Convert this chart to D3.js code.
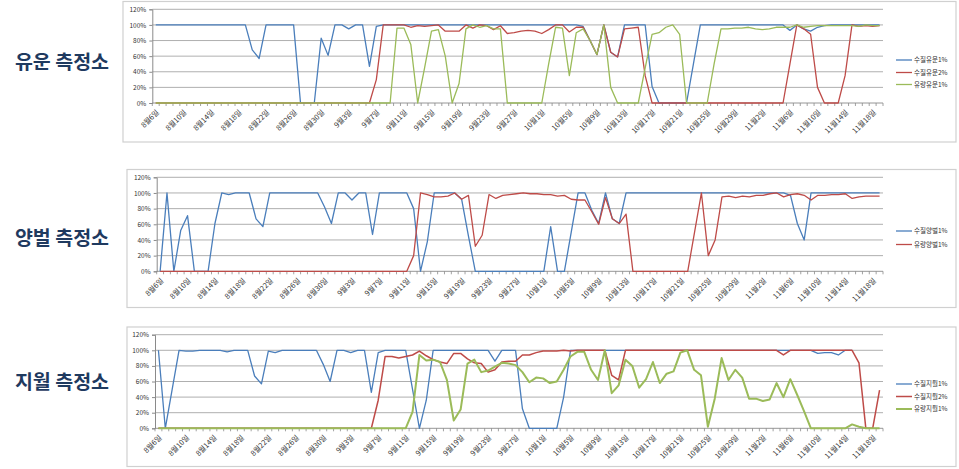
<!DOCTYPE html>
<html><head><meta charset="utf-8">
<script src="https://cdn.jsdelivr.net/npm/d3@7"></script>
<style>body{margin:0;background:#fff;} svg{display:block;}</style>
</head><body><svg id="c" width="959" height="469"></svg>
<script>
const categories = [
"8월6일","8월7일","8월8일","8월9일","8월10일","8월11일","8월12일","8월13일","8월14일","8월15일",
"8월16일","8월17일","8월18일","8월19일","8월20일","8월21일","8월22일","8월23일","8월24일","8월25일",
"8월26일","8월27일","8월28일","8월29일","8월30일","8월31일",
"9월1일","9월2일","9월3일","9월4일","9월5일","9월6일","9월7일","9월8일","9월9일","9월10일",
"9월11일","9월12일","9월13일","9월14일","9월15일","9월16일","9월17일","9월18일","9월19일","9월20일",
"9월21일","9월22일","9월23일","9월24일","9월25일","9월26일","9월27일","9월28일","9월29일","9월30일",
"10월1일","10월2일","10월3일","10월4일","10월5일","10월6일","10월7일","10월8일","10월9일","10월10일",
"10월11일","10월12일","10월13일","10월14일","10월15일","10월16일","10월17일","10월18일","10월19일","10월20일",
"10월21일","10월22일","10월23일","10월24일","10월25일","10월26일","10월27일","10월28일","10월29일","10월30일","10월31일",
"11월1일","11월2일","11월3일","11월4일","11월5일","11월6일","11월7일","11월8일","11월9일","11월10일",
"11월11일","11월12일","11월13일","11월14일","11월15일","11월16일","11월17일","11월18일","11월19일"];

const yTicks = [0,20,40,60,80,100,120];

// 유운 측정소
const yuunQuality1 = [100,100,100,100,100,100,100,100,100,100, 100,100,100,100,68,57,100,100,100,100,
 100,0,0,0,83,61,100,100,95,100, 100,47,98,100,100,100,100,100,100,100,
 100,100,100,100,100,100,100,100,100,100, 100,100,100,100,100,100,100,100,100,100,
 100,100,98,80,62,100,65,59,100,100, 100,100,21,0,0,0,0,0,50,100,
 100,100,100,100,100,100,100,100,100,100, 100,100,93,100,95,92,97,99,100,100,
 100,100,100,100,100,100];
const yuunQuality2 = [0,0,0,0,0,0,0,0,0,0, 0,0,0,0,0,0,0,0,0,0, 0,0,0,0,0,0,0,0,0,0,
 0,0,30,100,100,100,100,97,99,98, 99,100,92,92,92,100,96,100,99,94,
 99,89,90,92,93,92,89,94,100,100, 91,97,97,80,62,100,65,59,95,96,
 97,35,0,0,0,0,0,0,0,0, 0,0,0,0,0,0,0,0,0,0,
 0,0,50,100,95,88,20,0,0,0, 35,100,98,99,98,99];
const yuunFlow1 = [0,0,0,0,0,0,0,0,0,0, 0,0,0,0,0,0,0,0,0,0, 0,0,0,0,0,0,0,0,0,0,
 0,0,0,0,0,96,96,75,0,45, 92,94,60,0,25,95,100,97,99,95,
 95,0,0,0,0,0,0,50,97,96, 35,90,95,80,62,100,20,0,0,0,
 0,45,88,90,97,100,88,0,0,0, 0,50,95,95,96,96,97,95,94,95,
 97,97,97,100,97,98,99,99,99,99, 99,99,98,100,99,99];

// 양벌 측정소
const yangbeolQuality1 = [0,100,0,52,71,0,0,0,61,100, 98,100,100,100,67,57,100,100,100,100,
 100,100,100,100,82,61,100,100,91,100, 100,47,100,100,100,100,100,80,0,38,
 100,100,100,100,92,45,0,0,0,0, 0,0,0,0,0,0,0,57,0,0,
 50,100,100,78,61,100,67,61,100,100, 100,100,100,100,100,100,100,100,100,100,
 100,100,100,100,100,100,100,100,100,100, 100,100,97,61,40,100,100,100,100,100,
 100,100,100,100,100,100];
const yangbeolFlow1 = [0,0,0,0,0,0,0,0,0,0, 0,0,0,0,0,0,0,0,0,0, 0,0,0,0,0,0,0,0,0,0,
 0,0,0,0,0,0,0,20,100,98, 95,95,96,100,92,97,32,46,98,93,
 97,98,99,100,99,99,98,98,96,97, 92,91,91,76,60,94,67,61,73,0,
 0,0,0,0,0,0,0,0,50,100, 20,40,95,96,94,96,95,97,97,99,
 100,95,98,99,97,91,97,97,98,98, 99,93,95,96,96,96];

// 지월 측정소
const jiwolQuality1 = [100,0,50,100,99,99,100,100,100,100, 98,100,100,100,67,57,99,97,100,100,
 100,100,100,100,82,60,100,100,97,100, 100,46,97,100,100,100,100,50,0,36,
 100,100,100,100,100,100,100,100,100,86, 100,100,100,25,0,0,0,0,0,40,
 100,100,100,100,100,100,100,100,100,100, 100,100,100,100,100,100,100,100,100,100,
 100,100,100,100,100,100,100,100,100,100, 100,100,100,100,100,100,96,97,97,94,
 100,100,null,null,null,null];
const jiwolQuality2 = [0,0,0,0,0,0,0,0,0,0, 0,0,0,0,0,0,0,0,0,0, 0,0,0,0,0,0,0,0,0,0,
 0,0,36,92,92,90,92,94,99,93, 88,85,83,96,96,89,84,83,72,75,
 85,86,86,94,94,97,99,99,99,100, 99,100,100,100,100,100,68,62,100,100,
 100,100,100,100,100,100,100,100,100,100, 100,100,100,100,100,100,100,100,100,100,
 100,94,100,100,100,100,100,100,100,100, 100,100,84,0,0,49];
const jiwolFlow1 = [0,0,0,0,0,0,0,0,0,0, 0,0,0,0,0,0,0,0,0,0, 0,0,0,0,0,0,0,0,0,0,
 0,0,0,0,0,0,0,21,94,87, 88,85,62,10,24,83,88,72,74,79,
 84,83,81,72,59,65,64,58,60,75, 92,98,98,75,62,100,45,55,88,80,
 52,63,85,58,70,73,97,100,75,68, 2,38,90,62,75,65,38,38,35,37,
 58,40,63,43,22,0,0,0,0,0, 0,5,2,0,0,0];

const BLUE = "#4A7EBB", RED = "#BE4B48", GREEN = "#9BBB59";

const panels = [
  { title: "유운 측정소", titleY: 62,
    box: [123, 1.5, 833, 140.5], plot: [152.3, 883, 9.3, 103],
    legendY: [60, 72.5, 84.5],
    series: [
      { name: "수질유운1%", values: yuunQuality1, color: BLUE, width: 1.3 },
      { name: "수질유운2%", values: yuunQuality2, color: RED, width: 1.3 },
      { name: "유량유운1%", values: yuunFlow1, color: GREEN, width: 1.3 } ] },
  { title: "양벌 측정소", titleY: 238,
    box: [127, 169.5, 829, 138], plot: [156.7, 883, 177.3, 271.3],
    legendY: [231, 244.5],
    series: [
      { name: "수질양벌1%", values: yangbeolQuality1, color: BLUE, width: 1.3 },
      { name: "유량양벌1%", values: yangbeolFlow1, color: RED, width: 1.3 } ] },
  { title: "지월 측정소", titleY: 382,
    box: [127, 327, 829, 139.5], plot: [155, 883, 334.7, 428.3],
    legendY: [384, 396.5, 409],
    series: [
      { name: "수질지월1%", values: jiwolQuality1, color: BLUE, width: 1.3 },
      { name: "수질지월2%", values: jiwolQuality2, color: RED, width: 1.5 },
      { name: "유량지월1%", values: jiwolFlow1, color: GREEN, width: 2 } ] }
];

const svg = d3.select("#c");
const FONT = "'Noto Sans CJK KR','Noto Sans',sans-serif";

panels.forEach(p => {
  const g = svg.append("g");
  const [bx, by, bw, bh] = p.box;
  g.append("rect").attr("x", bx).attr("y", by).attr("width", bw).attr("height", bh)
    .attr("fill", "#fff").attr("stroke", "#d0d0d0").attr("stroke-width", 1.2);

  const [left, right, top, bottom] = p.plot;
  const x = d3.scaleBand().domain(categories).range([left, right]).padding(0);
  const y = d3.scaleLinear().domain([0, 120]).range([bottom, top]);
  const cx = c => x(c) + x.bandwidth() / 2;

  g.selectAll(".grid").data(yTicks.filter(t => t > 0)).enter().append("line")
    .attr("x1", left).attr("x2", right).attr("y1", d => y(d)).attr("y2", d => y(d))
    .attr("stroke", "#9a9a9a").attr("stroke-width", 0.8);

  const ya = d3.axisLeft(y).tickValues(yTicks).tickFormat(d => d + "%").tickSize(3).tickPadding(3);
  const yg = g.append("g").attr("transform", `translate(${left},0)`).call(ya);
  yg.select(".domain").attr("stroke", "#8a8a8a");
  yg.selectAll(".tick line").attr("stroke", "#8a8a8a");
  yg.selectAll("text").attr("font-family", FONT).attr("font-size", 6.5).attr("fill", "#333");

  g.append("line").attr("x1", left).attr("x2", right).attr("y1", bottom).attr("y2", bottom)
    .attr("stroke", "#8a8a8a").attr("stroke-width", 0.9);
  const bounds = d3.range(categories.length + 1).map(i => left + i * x.bandwidth());
  g.selectAll(".xt").data(bounds).enter().append("line")
    .attr("x1", d => d).attr("x2", d => d).attr("y1", bottom).attr("y2", bottom + 3)
    .attr("stroke", "#8a8a8a").attr("stroke-width", 0.8);
  g.selectAll(".xl").data(categories.filter((c, i) => i % 4 === 0)).enter().append("text")
    .attr("transform", d => `translate(${cx(d) + 2},${bottom + 8}) rotate(-45)`)
    .attr("text-anchor", "end").attr("dy", "0.35em")
    .attr("font-family", FONT).attr("font-size", 7.4).attr("fill", "#333")
    .text(d => d);

  const line = d3.line().defined(d => d.v != null).x(d => cx(d.c)).y(d => y(d.v));
  p.series.forEach(s => {
    g.append("path").datum(s.values.map((v, i) => ({ c: categories[i], v })))
      .attr("d", line).attr("fill", "none").attr("stroke", s.color)
      .attr("stroke-width", s.width).attr("stroke-linejoin", "round");
  });

  p.series.forEach((s, k) => {
    const ly = p.legendY[k];
    g.append("line").attr("x1", 896).attr("x2", 912).attr("y1", ly).attr("y2", ly)
      .attr("stroke", s.color).attr("stroke-width", s.width);
    g.append("text").attr("x", 914).attr("y", ly).attr("dy", "0.35em")
      .attr("font-family", FONT).attr("font-size", 6.5).attr("fill", "#333").text(s.name);
  });

  svg.append("text").attr("x", 62).attr("y", p.titleY).attr("dy", "0.36em")
    .attr("text-anchor", "middle").attr("font-family", FONT).attr("font-weight", 700)
    .attr("font-size", 19.5).attr("fill", "#1F3A5F").text(p.title);
});
</script></body></html>
